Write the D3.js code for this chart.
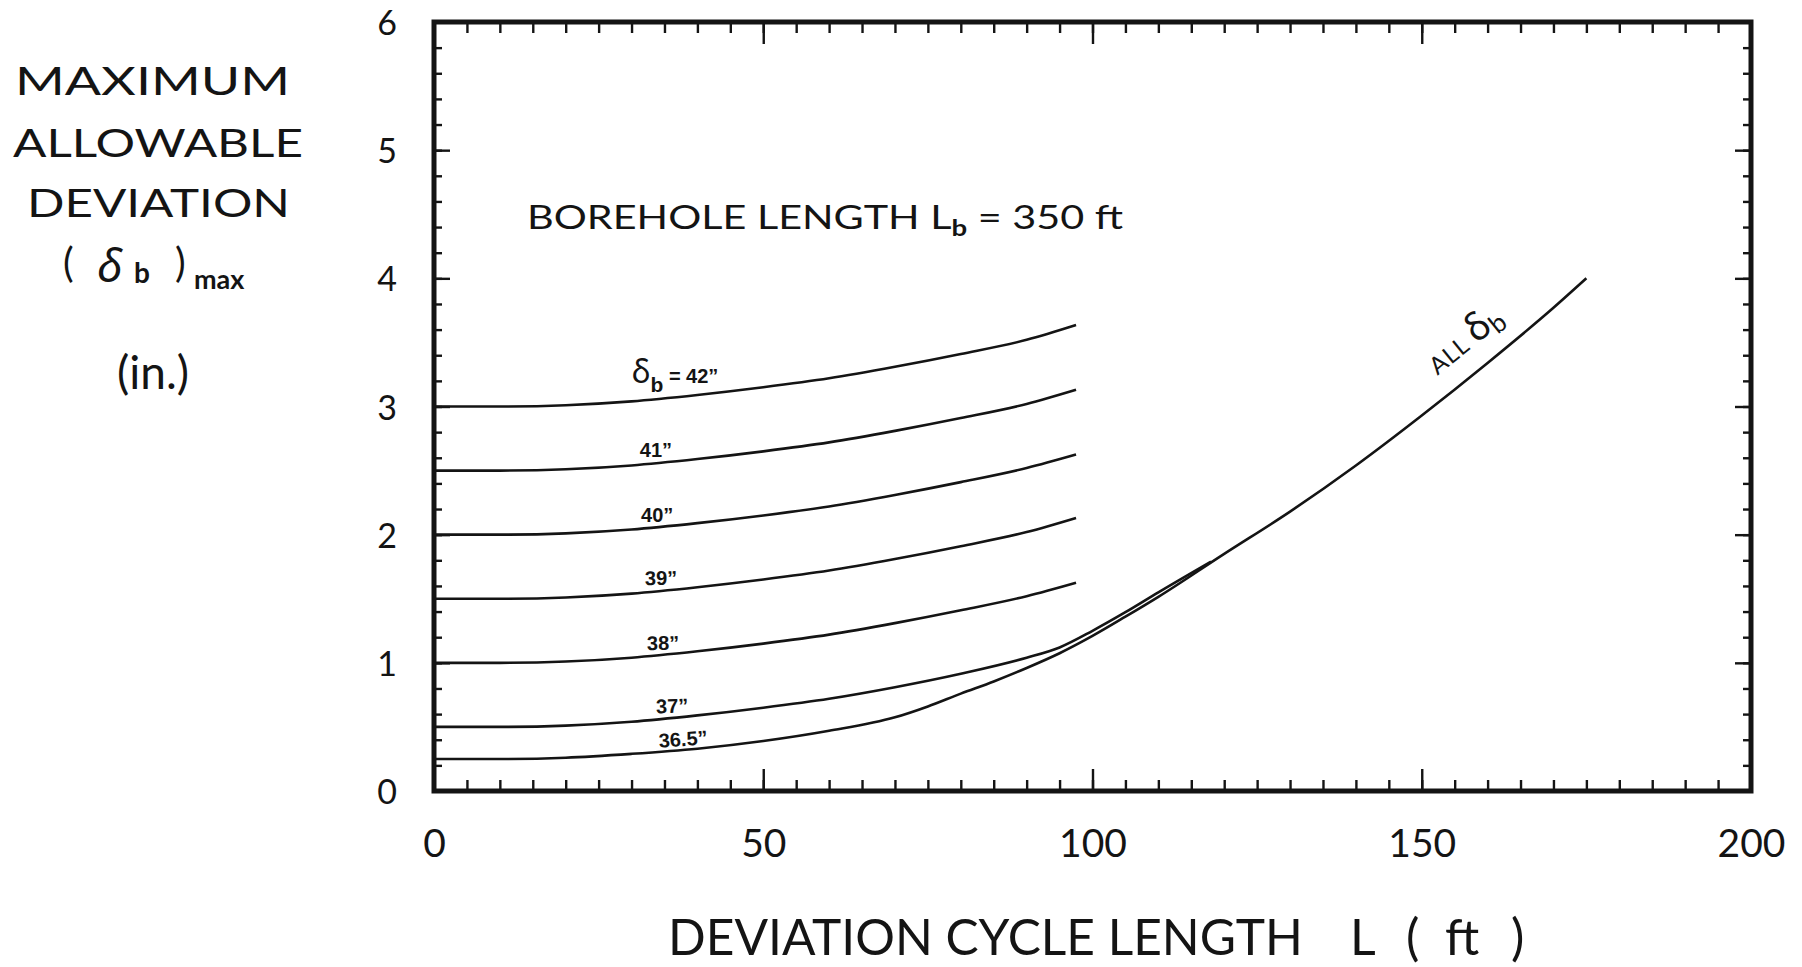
<!DOCTYPE html>
<html>
<head>
<meta charset="utf-8">
<script src="https://cdn.jsdelivr.net/npm/d3@7"></script>
<style>
  body { margin: 0; background: #fff; }
  svg text { fill: #141414; }
</style>
</head>
<body>
<div id="vis"></div>
<script>
// values
// deviation cycle length L (ft) for the 38" - 42" curves
const cycleLen = [0, 10, 20, 30, 40, 50, 60, 70, 80, 90, 97.5];
const dev42 = [3.00, 3.00, 3.01, 3.04, 3.09, 3.15, 3.22, 3.31, 3.41, 3.52, 3.635];
const dev41 = [2.50, 2.50, 2.51, 2.54, 2.59, 2.65, 2.72, 2.81, 2.91, 3.02, 3.13];
const dev40 = [2.00, 2.00, 2.01, 2.04, 2.09, 2.15, 2.22, 2.31, 2.41, 2.52, 2.625];
const dev39 = [1.50, 1.50, 1.51, 1.54, 1.59, 1.65, 1.72, 1.81, 1.91, 2.02, 2.13];
const dev38 = [1.00, 1.00, 1.01, 1.04, 1.09, 1.15, 1.22, 1.31, 1.41, 1.52, 1.625];

// 37" runs on until it meets the envelope
const cycleLen37 = [0, 10, 20, 30, 40, 50, 60, 70, 80, 90, 95, 100, 105, 110, 118];
const dev37 = [0.50, 0.50, 0.51, 0.54, 0.59, 0.65, 0.72, 0.81, 0.915, 1.04, 1.12, 1.25, 1.395, 1.55, 1.79];

// 36.5" becomes the "ALL δb" envelope after L ~ 70
const cycleLen365 = [0, 10, 20, 30, 40, 50, 60, 70, 75, 80, 85, 90, 95, 100, 105, 110, 120, 130, 140, 150, 160, 170, 175];
const dev365 = [0.25, 0.25, 0.26, 0.29, 0.33, 0.39, 0.47, 0.575, 0.66, 0.76, 0.855, 0.96, 1.075, 1.21, 1.36, 1.515, 1.85, 2.18, 2.54, 2.93, 3.34, 3.77, 4.00];

const curveNames = ["42\u201D", "41\u201D", "40\u201D", "39\u201D", "38\u201D", "37\u201D", "36.5\u201D"];

const xTicks = [0, 50, 100, 150, 200];
const yTicks = [0, 1, 2, 3, 4, 5, 6];

const W = 1802, H = 967;
const ink = "#141414";
const geo = "Lato, 'Noto Sans', sans-serif";
const narrow = "'Liberation Sans Narrow', 'Liberation Sans', Arial, sans-serif";

let svg = d3
  .select("#vis")
  .append("svg")
  .attr("width", W)
  .attr("height", H)
  .style("background-color", "white");

let x = d3.scaleLinear().domain([0, 200]).range([434, 1751]);
let y = d3.scaleLinear().domain([0, 6]).range([791, 22]);

// ---- ticks (all pointing into the frame)
function styleAxis(g, fontSize) {
  g.select(".domain").remove();
  g.selectAll(".tick line").attr("stroke", ink).attr("stroke-width", 2.4);
  g.selectAll(".tick text")
    .attr("fill", ink)
    .style("font-family", geo)
    .style("font-size", fontSize + "px");
}

let minorX = d3.range(0, 201, 5);
let minorY = d3.range(0, 31).map((i) => i * 0.2);

svg.append("g")
  .attr("transform", `translate(0,${y(0)})`)
  .call(d3.axisBottom(x).tickValues(minorX).tickSize(-11).tickFormat(""))
  .call(styleAxis, 39);
svg.append("g")
  .attr("transform", `translate(0,${y(0)})`)
  .call(d3.axisBottom(x).tickValues(xTicks).tickSize(-22).tickPadding(38).tickFormat(d3.format("d")))
  .call(styleAxis, 39);

svg.append("g")
  .attr("transform", `translate(0,${y(6)})`)
  .call(d3.axisTop(x).tickValues(minorX).tickSize(-11).tickFormat(""))
  .call(styleAxis, 39);
svg.append("g")
  .attr("transform", `translate(0,${y(6)})`)
  .call(d3.axisTop(x).tickValues(xTicks).tickSize(-22).tickFormat(""))
  .call(styleAxis, 39);

svg.append("g")
  .attr("transform", `translate(${x(0)},0)`)
  .call(d3.axisLeft(y).tickValues(minorY).tickSize(-8).tickFormat(""))
  .call(styleAxis, 34);
svg.append("g")
  .attr("transform", `translate(${x(0)},0)`)
  .call(d3.axisLeft(y).tickValues(yTicks).tickSize(-16).tickPadding(37).tickFormat(d3.format("d")))
  .call(styleAxis, 34)
  .call((g) => g.selectAll(".tick text").attr("dy", "0.37em"));

svg.append("g")
  .attr("transform", `translate(${x(200)},0)`)
  .call(d3.axisRight(y).tickValues(minorY).tickSize(-8).tickFormat(""))
  .call(styleAxis, 34);
svg.append("g")
  .attr("transform", `translate(${x(200)},0)`)
  .call(d3.axisRight(y).tickValues(yTicks).tickSize(-16).tickFormat(""))
  .call(styleAxis, 34);

// frame
svg.append("rect")
  .attr("x", x(0))
  .attr("y", y(6))
  .attr("width", x(200) - x(0))
  .attr("height", y(0) - y(6))
  .attr("fill", "none")
  .attr("stroke", ink)
  .attr("stroke-width", 5);

// ---- curves
let line = d3.line()
  .x((d) => x(d[0]))
  .y((d) => y(d[1]))
  .curve(d3.curveMonotoneX);

let series = [
  d3.zip(cycleLen, dev42),
  d3.zip(cycleLen, dev41),
  d3.zip(cycleLen, dev40),
  d3.zip(cycleLen, dev39),
  d3.zip(cycleLen, dev38),
  d3.zip(cycleLen37, dev37),
  d3.zip(cycleLen365, dev365),
];

svg.append("g")
  .selectAll("path")
  .data(series)
  .join("path")
  .attr("d", line)
  .attr("fill", "none")
  .attr("stroke", ink)
  .attr("stroke-width", 2.6)
  .attr("stroke-linejoin", "round");

// ---- curve labels (L, value where the label baseline sits, tilt)
let labelAt = [
  [36.6, 3.183, 0],
  [33.7, 2.606, 0],
  [33.9, 2.099, 0],
  [34.5, 1.607, -1],
  [34.8, 1.100, -1],
  [36.2, 0.609, -2],
  [37.9, 0.351, -4],
];

labelAt.forEach((p, i) => {
  let t = svg.append("text")
    .attr("transform", `translate(${x(p[0])},${y(p[1])}) rotate(${p[2]})`)
    .attr("text-anchor", "middle")
    .style("font-family", narrow)
    .style("font-weight", "bold")
    .style("font-size", "20px");
  if (i === 0) {
    t.append("tspan").style("font-family", "'Noto Sans', sans-serif").style("font-weight", "normal").style("font-size", "32px").text("\u03B4");
    t.append("tspan").attr("dy", 9).style("font-size", "21px").text("b");
    t.append("tspan").attr("dy", -9).text(" = " + curveNames[i]);
  } else {
    t.text(curveNames[i]);
  }
});

// "ALL δb" along the envelope
let allLbl = svg.append("text")
  .attr("transform", `translate(${x(152.4)},${y(3.24)}) rotate(-39)`)
  .style("font-family", geo)
  .style("font-size", "24px");
allLbl.append("tspan").style("letter-spacing", "1px").text("ALL ");
allLbl.append("tspan").style("font-family", "'Noto Sans', sans-serif").style("font-size", "38px").text("\u03B4");
allLbl.append("tspan").attr("dy", 6).style("font-size", "26px").text("b");

// ---- title inside the plot
let title = svg.append("text")
  .attr("x", 527)
  .attr("y", 229)
  .attr("textLength", 596)
  .attr("lengthAdjust", "spacingAndGlyphs")
  .style("font-family", geo)
  .style("font-size", "33px");
title.append("tspan").text("BOREHOLE LENGTH L");
title.append("tspan").attr("dy", 7).style("font-size", "22px").style("font-weight", "bold").text("b");
title.append("tspan").attr("dy", -7).text(" = 350 ft");

// ---- y axis title
let yTitle = [
  ["MAXIMUM", 15, 95, 275],
  ["ALLOWABLE", 13, 157, 290],
  ["DEVIATION", 27, 217, 263],
];
yTitle.forEach((r) => {
  svg.append("text")
    .attr("x", r[1])
    .attr("y", r[2])
    .attr("textLength", r[3])
    .attr("lengthAdjust", "spacingAndGlyphs")
    .style("font-family", geo)
    .style("font-size", "38px")
    .text(r[0]);
});

let sym = svg.append("g").style("font-family", geo);
sym.append("text").attr("x", 63).attr("y", 277).style("font-size", "40px").text("(");
sym.append("text").attr("x", 97).attr("y", 282).style("font-family", "'Noto Sans', sans-serif").style("font-style", "italic").style("font-size", "46px").text("\u03B4");
sym.append("text").attr("x", 134).attr("y", 283).style("font-size", "28px").style("font-weight", "bold").text("b");
sym.append("text").attr("x", 175).attr("y", 277).style("font-size", "40px").text(")");
sym.append("text").attr("x", 194).attr("y", 289).style("font-size", "27px").style("font-weight", "bold").text("max");

svg.append("text")
  .attr("x", 153)
  .attr("y", 389)
  .attr("text-anchor", "middle")
  .style("font-family", geo)
  .style("font-size", "46px")
  .text("(in.)");

// ---- x axis title
svg.append("text")
  .attr("x", 668)
  .attr("y", 955)
  .attr("textLength", 635)
  .attr("lengthAdjust", "spacingAndGlyphs")
  .style("font-family", geo)
  .style("font-size", "50px")
  .text("DEVIATION CYCLE LENGTH");

let xUnit = [
  ["L", 1350],
  ["(", 1406],
  ["ft", 1445],
  [")", 1511],
];
xUnit.forEach((r) => {
  svg.append("text")
    .attr("x", r[1])
    .attr("y", 955)
    .style("font-family", geo)
    .style("font-size", "50px")
    .text(r[0]);
});
</script>
</body>
</html>
